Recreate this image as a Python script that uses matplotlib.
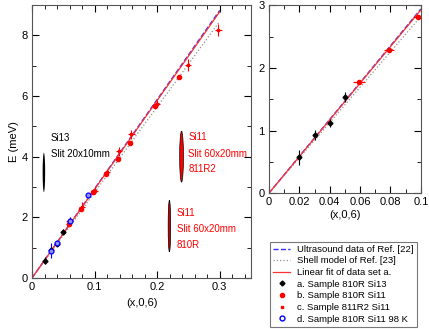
import matplotlib.pyplot as plt
import numpy as np
from matplotlib.patches import Ellipse
from matplotlib.lines import Line2D
from matplotlib.ticker import MultipleLocator

plt.rcParams['font.family'] = ['Liberation Sans', 'DejaVu Sans']
plt.rcParams['font.size'] = 8

# data set a: Sample 810R Si13
a_q = [0.02, 0.03, 0.04, 0.05]
a_E = [0.57, 0.93, 1.12, 1.53]
a_err = [0.12, 0.08, 0.06, 0.08]

# data set b: Sample 810R Si11
b_q = [0.059, 0.079, 0.098, 0.118, 0.137, 0.156, 0.196, 0.235]
b_E = [1.77, 2.28, 2.82, 3.42, 3.93, 4.45, 5.68, 6.63]
b_qerr = [0.004, 0.003, 0.003, 0.003, 0.003, 0.003, 0.003, 0.003]
b_err = [0.05, 0.05, 0.05, 0.05, 0.05, 0.05, 0.05, 0.05]

# data set c: Sample 811R2 Si11
c_q = [0.06, 0.08, 0.1, 0.12, 0.139, 0.159, 0.199, 0.249, 0.298]
c_E = [1.87, 2.35, 2.88, 3.48, 4.17, 4.73, 5.75, 7.02, 8.17]
c_qerr = [0.005, 0.005, 0.005, 0.005, 0.005, 0.005, 0.005, 0.005, 0.005]
c_err = [0.15, 0.15, 0.12, 0.12, 0.15, 0.15, 0.12, 0.2, 0.2]

# data set d: Sample 810R Si11 98 K
d_q = [0.03, 0.04, 0.06, 0.09]
d_E = [0.9, 1.15, 1.88, 2.72]
d_err = [0.25, 0.05, 0.12, 0.05]

# slopes of the model lines (meV per r.l.u.)
slope_us = 29.4
slope_shell = 28.2
slope_fit = 29.25

fig = plt.figure(figsize=(4.29, 3.29), dpi=100)
ax1 = fig.add_axes([0.0746, 0.155, 0.5105, 0.830])
ax2 = fig.add_axes([0.627, 0.413, 0.354, 0.571])


def draw_lines(ax, qmax):
    q = np.array([0, qmax])
    ax.plot(q, slope_us * q, '--', color='#3030ff', lw=1.0)
    ax.plot(q, slope_shell * q, ':', color='#909090', lw=0.9)
    ax.plot(q, slope_fit * q, '-', color='#ff3030', lw=0.9)


draw_lines(ax1, 0.3)
draw_lines(ax2, 0.1)

ax1.errorbar(a_q, a_E, yerr=a_err, fmt='D', ms=2.5, color='black', elinewidth=0.8, capsize=0)
ax1.errorbar(b_q, b_E, xerr=b_qerr, yerr=b_err, fmt='o', ms=3, color='red', elinewidth=0.8, capsize=0)
ax1.errorbar(c_q, c_E, xerr=c_qerr, yerr=c_err, fmt='s', ms=1.8, color='red', elinewidth=0.8, capsize=0)
ax1.errorbar(d_q, d_E, yerr=d_err, fmt='o', ms=3.5, mfc='#9090ff', mec='blue', mew=0.9,
             color='blue', elinewidth=0.8, capsize=0)

ax2.errorbar(a_q, a_E, yerr=a_err, fmt='D', ms=2.5, color='black', elinewidth=0.8, capsize=0)
ax2.errorbar(b_q[:3], b_E[:3], xerr=b_qerr[:3], fmt='o', ms=3, color='red', elinewidth=0.8, capsize=0)

# slit profiles
ax1.add_patch(Ellipse((0.019, 3.48), 0.004, 1.3, fc='black', ec='none'))
ax1.add_patch(Ellipse((0.239, 4.0), 0.006, 1.68, fc='red', ec='black', lw=0.5))
ax1.add_patch(Ellipse((0.2196, 1.71), 0.004, 1.7, fc='#c00000', ec='black', lw=0.5))

ax1.text(0.03, 4.6, 'Si13', color='black', fontsize=7, va='center')
ax1.text(0.03, 4.1, 'Slit 20x10mm', color='black', fontsize=7, va='center')
ax1.text(0.25, 4.64, 'Si11', color='red', fontsize=7, va='center')
ax1.text(0.25, 4.1, 'Slit 60x20mm', color='red', fontsize=7, va='center')
ax1.text(0.25, 3.6, '811R2', color='red', fontsize=7, va='center')
ax1.text(0.231, 2.15, 'Si11', color='red', fontsize=7, va='center')
ax1.text(0.231, 1.61, 'Slit 60x20mm', color='red', fontsize=7, va='center')
ax1.text(0.231, 1.08, '810R', color='red', fontsize=7, va='center')

ax1.set_xlim(0, 0.35)
ax1.set_ylim(0, 9)
ax1.xaxis.set_major_locator(MultipleLocator(0.1))
ax1.xaxis.set_minor_locator(MultipleLocator(0.02))
ax1.yaxis.set_major_locator(MultipleLocator(2))
ax1.yaxis.set_minor_locator(MultipleLocator(1))
ax1.set_xlabel('(x,0,6)')
ax1.set_ylabel('E (meV)', labelpad=2)

ax2.set_xlim(0, 0.1)
ax2.set_ylim(0, 3)
ax2.xaxis.set_major_locator(MultipleLocator(0.02))
ax2.xaxis.set_minor_locator(MultipleLocator(0.01))
ax2.yaxis.set_major_locator(MultipleLocator(1))
ax2.yaxis.set_minor_locator(MultipleLocator(0.5))
ax2.set_xlabel('(x,0,6)', labelpad=2)

for ax in (ax1, ax2):
    ax.tick_params(which='both', direction='in', top=True, right=True, pad=3)
    ax.tick_params(which='major', length=5)
    ax.tick_params(which='minor', length=3)
    ax.xaxis.set_major_formatter(plt.FuncFormatter(lambda v, p: ('%g' % round(v, 3))))
    for s in ax.spines.values():
        s.set_color('#555555')

handles = [
    Line2D([], [], ls='--', color='#3030ff', lw=1.0),
    Line2D([], [], ls=':', color='#909090', lw=0.9),
    Line2D([], [], ls='-', color='#ff3030', lw=0.9),
    Line2D([], [], ls='none', marker='D', ms=2.5, color='black'),
    Line2D([], [], ls='none', marker='o', ms=3, color='red'),
    Line2D([], [], ls='none', marker='s', ms=1.8, color='red'),
    Line2D([], [], ls='none', marker='o', ms=3.5, mfc='none', mec='blue'),
]
labels = ['Ultrasound data of Ref. [22]', 'Shell model of Ref. [23]',
          'Linear fit of data set a.', 'a. Sample 810R Si13', 'b. Sample 810R Si11',
          'c. Sample 811R2 Si11', 'd. Sample 810R Si11 98 K']
leg = fig.legend(handles, labels, loc='lower left', bbox_to_anchor=(0.629, 0.006),
                 fontsize=6.8, frameon=True, fancybox=False, handlelength=1.8,
                 handletextpad=0.7, labelspacing=0.28, borderpad=0.35, borderaxespad=0)
leg.get_frame().set_edgecolor('#555555')
leg.get_frame().set_linewidth(0.8)

plt.savefig('out.png', dpi=100)
